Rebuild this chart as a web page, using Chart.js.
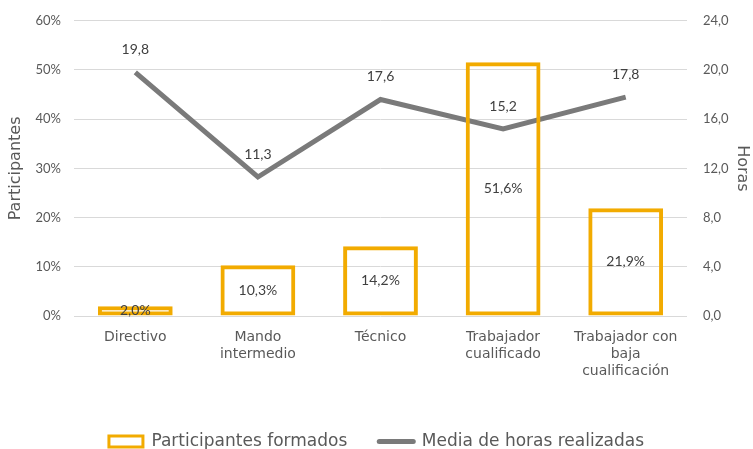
<!DOCTYPE html>
<html>
<head>
<meta charset="utf-8">
<script src="https://cdn.jsdelivr.net/npm/chart.js@4.4.1/dist/chart.umd.min.js"></script>
<style>
  html, body { margin: 0; padding: 0; background: #fff; }
  #wrap { width: 753px; height: 449px; }
</style>
</head>
<body>
<div id="wrap"><canvas id="myChart" width="753" height="449"></canvas></div>
<script>
const categories = [
  'Directivo',
  ['Mando', 'intermedio'],
  'Técnico',
  ['Trabajador', 'cualificado'],
  ['Trabajador con', 'baja', 'cualificación']
]
const participantes = [2.0, 10.3, 14.2, 51.6, 21.9]
const horas = [19.8, 11.3, 17.6, 15.2, 17.8]

const leftTicks = [0, 10, 20, 30, 40, 50, 60]
const rightTicks = [0, 4, 8, 12, 16, 20, 24]

const orange = '#F2AB00'
const grey = '#7A7A7A'
const textColor = '#595959'

function fmt (v, d) {
  return v.toFixed(d).replace('.', ',')
}

// draws the value labels on bars and line points
const valueLabels = {
  id: 'valueLabels',
  afterDatasetsDraw (chart) {
    const ctx = chart.ctx
    ctx.save()
    ctx.font = '14px Lato'
    ctx.fillStyle = '#404040'
    ctx.textAlign = 'center'
    ctx.textBaseline = 'middle'
    chart.getDatasetMeta(0).data.forEach((bar, i) => {
      const mid = (bar.y + bar.base) / 2
      ctx.fillText(fmt(participantes[i], 1) + '%', bar.x, mid)
    })
    chart.getDatasetMeta(1).data.forEach((pt, i) => {
      ctx.fillText(fmt(horas[i], 1), pt.x, pt.y - 23)
    })
    ctx.restore()
  }
}

var ctx = document.getElementById('myChart').getContext('2d')
var myChart = new Chart(ctx, {
  type: 'bar',
  data: {
    labels: categories,
    datasets: [{
      type: 'bar',
      label: 'Participantes formados',
      data: participantes,
      yAxisID: 'y',
      backgroundColor: 'rgba(255,255,255,0)',
      borderColor: orange,
      borderWidth: 4,
      borderSkipped: false,
      categoryPercentage: 1,
      barPercentage: 0.61,
      order: 0
    }, {
      type: 'line',
      label: 'Media de horas realizadas',
      data: horas,
      yAxisID: 'y2',
      borderColor: grey,
      backgroundColor: grey,
      borderWidth: 5,
      pointRadius: 0,
      tension: 0,
      order: 1
    }]
  },
  options: {
    responsive: false,
    animation: false,
    layout: { padding: { top: 14, bottom: -11, left: 0, right: 0 } },
    plugins: {
      tooltip: { enabled: false },
      legend: {
        position: 'bottom',
        labels: {
          color: textColor,
          font: { family: 'DejaVu Sans', size: 17 },
          usePointStyle: true,
          pointStyleWidth: 34,
          boxHeight: 11,
          padding: 32,
          generateLabels (chart) {
            return [{
              text: 'Participantes formados',
              fillStyle: '#FFFFFF',
              strokeStyle: orange,
              lineWidth: 3,
              pointStyle: 'rect',
              datasetIndex: 0,
              fontColor: textColor
            }, {
              text: 'Media de horas realizadas',
              fillStyle: grey,
              strokeStyle: grey,
              lineWidth: 5,
              lineCap: 'round',
              pointStyle: 'line',
              datasetIndex: 1,
              fontColor: textColor
            }]
          }
        }
      }
    },
    scales: {
      x: {
        grid: { display: false },
        border: { display: false },
        ticks: {
          color: textColor,
          font: { family: 'DejaVu Sans', size: 14, lineHeight: 1.22 },
          padding: 5,
          maxRotation: 0,
          autoSkip: false
        },
        afterFit (scale) { scale.height = 85 }
      },
      y: {
        position: 'left',
        min: 0,
        max: 60,
        afterBuildTicks (scale) { scale.ticks = leftTicks.map(v => ({ value: v })) },
        grid: { color: '#D9D9D9', lineWidth: 1, drawTicks: false },
        border: { display: false },
        ticks: {
          color: textColor,
          font: { family: 'Lato', size: 13 },
          padding: 13,
          callback: v => v + '%'
        },
        title: {
          display: true,
          text: 'Participantes',
          color: textColor,
          font: { family: 'DejaVu Sans', size: 16 },
          padding: { top: 6, bottom: 2 }
        },
        afterFit (scale) { scale.width = 74 }
      },
      y2: {
        position: 'right',
        min: 0,
        max: 24,
        afterBuildTicks (scale) { scale.ticks = rightTicks.map(v => ({ value: v })) },
        grid: { display: false },
        border: { display: false },
        ticks: {
          color: textColor,
          font: { family: 'Lato', size: 13 },
          padding: 8,
          callback: v => fmt(v, 1)
        },
        title: {
          display: true,
          text: 'Horas',
          color: textColor,
          font: { family: 'DejaVu Sans', size: 16 },
          padding: { top: 1, bottom: 0 }
        },
        afterFit (scale) { scale.width = 66 }
      }
    }
  },
  plugins: [valueLabels]
})
</script>
</body>
</html>
